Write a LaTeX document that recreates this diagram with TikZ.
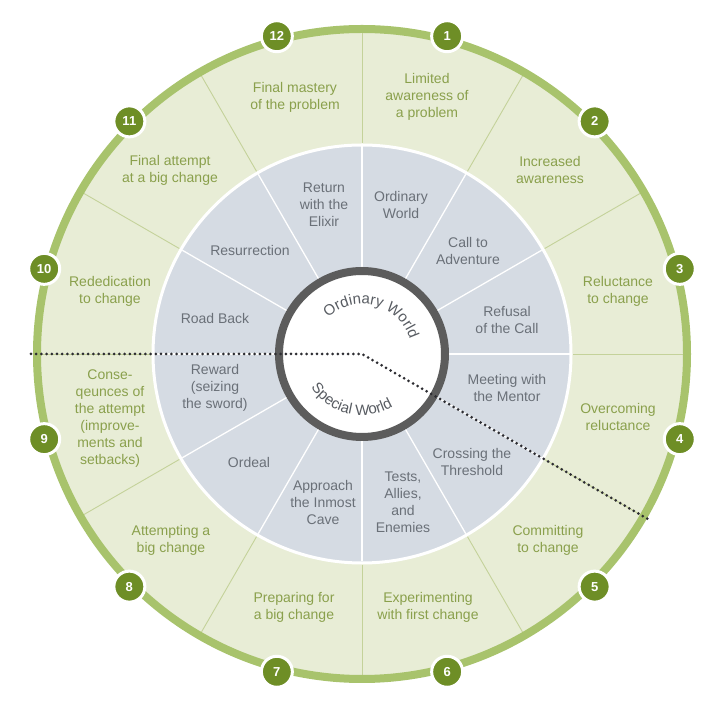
\documentclass[tikz,border=0pt]{standalone}
\usepackage{fontspec}
\setmainfont{Liberation Sans}
\usetikzlibrary{decorations.text}
\definecolor{ltgreen}{RGB}{232,237,214}
\definecolor{ringgreen}{RGB}{168,195,108}
\definecolor{numgreen}{RGB}{110,142,38}
\definecolor{divgreen}{RGB}{196,210,154}
\definecolor{txtgreen}{RGB}{138,160,76}
\definecolor{grayfill}{RGB}{213,219,227}
\definecolor{txtgray}{RGB}{106,112,120}
\definecolor{worldgray}{RGB}{88,92,98}
\definecolor{ringgray}{RGB}{92,92,92}
\definecolor{dotcol}{RGB}{45,45,50}
\begin{document}
\begin{tikzpicture}[x=1pt,y=1pt,
  gtext/.style={align=center,text=txtgreen,font=\fontsize{14}{17}\selectfont,inner sep=0pt},
  stext/.style={align=center,text=txtgray,font=\fontsize{14}{17}\selectfont,inner sep=0pt},
  numc/.style={circle,fill=numgreen,draw=white,line width=3pt,minimum size=31pt,inner sep=0pt,text=white,font=\fontsize{13}{13}\selectfont\bfseries},
  gdiv/.style={draw=divgreen,line width=0.9pt},
  sdiv/.style={draw=white,line width=1.3pt},
  dotline/.style={draw=dotcol,line width=3pt,dash pattern=on 0pt off 5.2pt,line cap=round}]
\useasboundingbox (-362,-357) rectangle (358,354);
% green region
\fill[ltgreen] (0,0) circle[radius=322];
% gray region
\filldraw[fill=grayfill,draw=white,line width=3pt] (0,0) circle[radius=209];
% dividers
\foreach \a in {0,30,...,330}{
  \draw[gdiv] (\a:211) -- (\a:322);
  \draw[sdiv] (\a:86) -- (\a:207.5);
}
% outer ring
\draw[ringgreen,line width=8pt] (0,0) circle[radius=325];
% inner circle
\filldraw[fill=white,draw=ringgray,line width=8pt] (0,0) circle[radius=83];
\begin{scope}
\fontsize{15}{18}\selectfont
\path[decorate,decoration={text along path,text align=center,text color=worldgray,
  text={Ordinary World}}]
  (165:50) arc[start angle=165,end angle=-15,radius=50];
\path[decorate,decoration={text along path,text align=center,text color=worldgray,
  text={Special World}}]
  (167:61) arc[start angle=167,end angle=347,radius=61];
\end{scope}
% dotted line
\coordinate (c) at (0,0);
\coordinate (dl) at (180:331);
\coordinate (dr) at (-30:331);
\draw[dotline] (dl) -- (c) -- (dr);
% number circles
\foreach \i in {1,...,12}{
  \node[numc] (n\i) at ({75-30*(\i-1)}:329) {\i};
}
% green texts
\node[gtext] (g1) at (65,257) {Limited\\awareness of\\a problem};
\node[gtext] (g2) at (188,184) {Increased\\awareness};
\node[gtext] (g3) at (256,63) {Reluctance\\to change};
\node[gtext] (g4) at (256,-63) {Overcoming\\reluctance};
\node[gtext] (g5) at (186,-186) {Committing\\to change};
\node[gtext] (g6) at (66,-253) {Experimenting\\with first change};
\node[gtext] (g7) at (-68,-253) {Preparing for\\a big change};
\node[gtext] (g8) at (-191,-186) {Attempting a\\big change};
\node[gtext] (g9) at (-252,-65) {Conse-\\qeunces of\\the attempt\\(improve-\\ments and\\setbacks)};
\node[gtext] (g10) at (-252,63) {Rededication\\to change};
\node[gtext] (g11) at (-192,184) {Final attempt\\at a big change};
\node[gtext] (g12) at (-67,257) {Final mastery\\of the problem};
% gray texts
\node[stext] (s1) at (39,149) {Ordinary\\World};
\node[stext] (s2) at (106,103) {Call to\\Adventure};
\node[stext] (s3) at (145,34) {Refusal\\of the Call};
\node[stext] (s4) at (145,-34) {Meeting with\\the Mentor};
\node[stext] (s5) at (110,-108) {Crossing the\\Threshold};
\node[stext] (s6) at (41,-148) {Tests,\\Allies,\\and\\Enemies};
\node[stext] (s7) at (-39,-148) {Approach\\the Inmost\\Cave};
\node[stext] (s8) at (-113,-108) {Ordeal};
\node[stext] (s9) at (-147,-34) {Reward\\(seizing\\the sword)};
\node[stext] (s10) at (-147,35) {Road Back};
\node[stext] (s11) at (-112,103) {Resurrection};
\node[stext] (s12) at (-38,149) {Return\\with the\\Elixir};
\end{tikzpicture}
\end{document}
